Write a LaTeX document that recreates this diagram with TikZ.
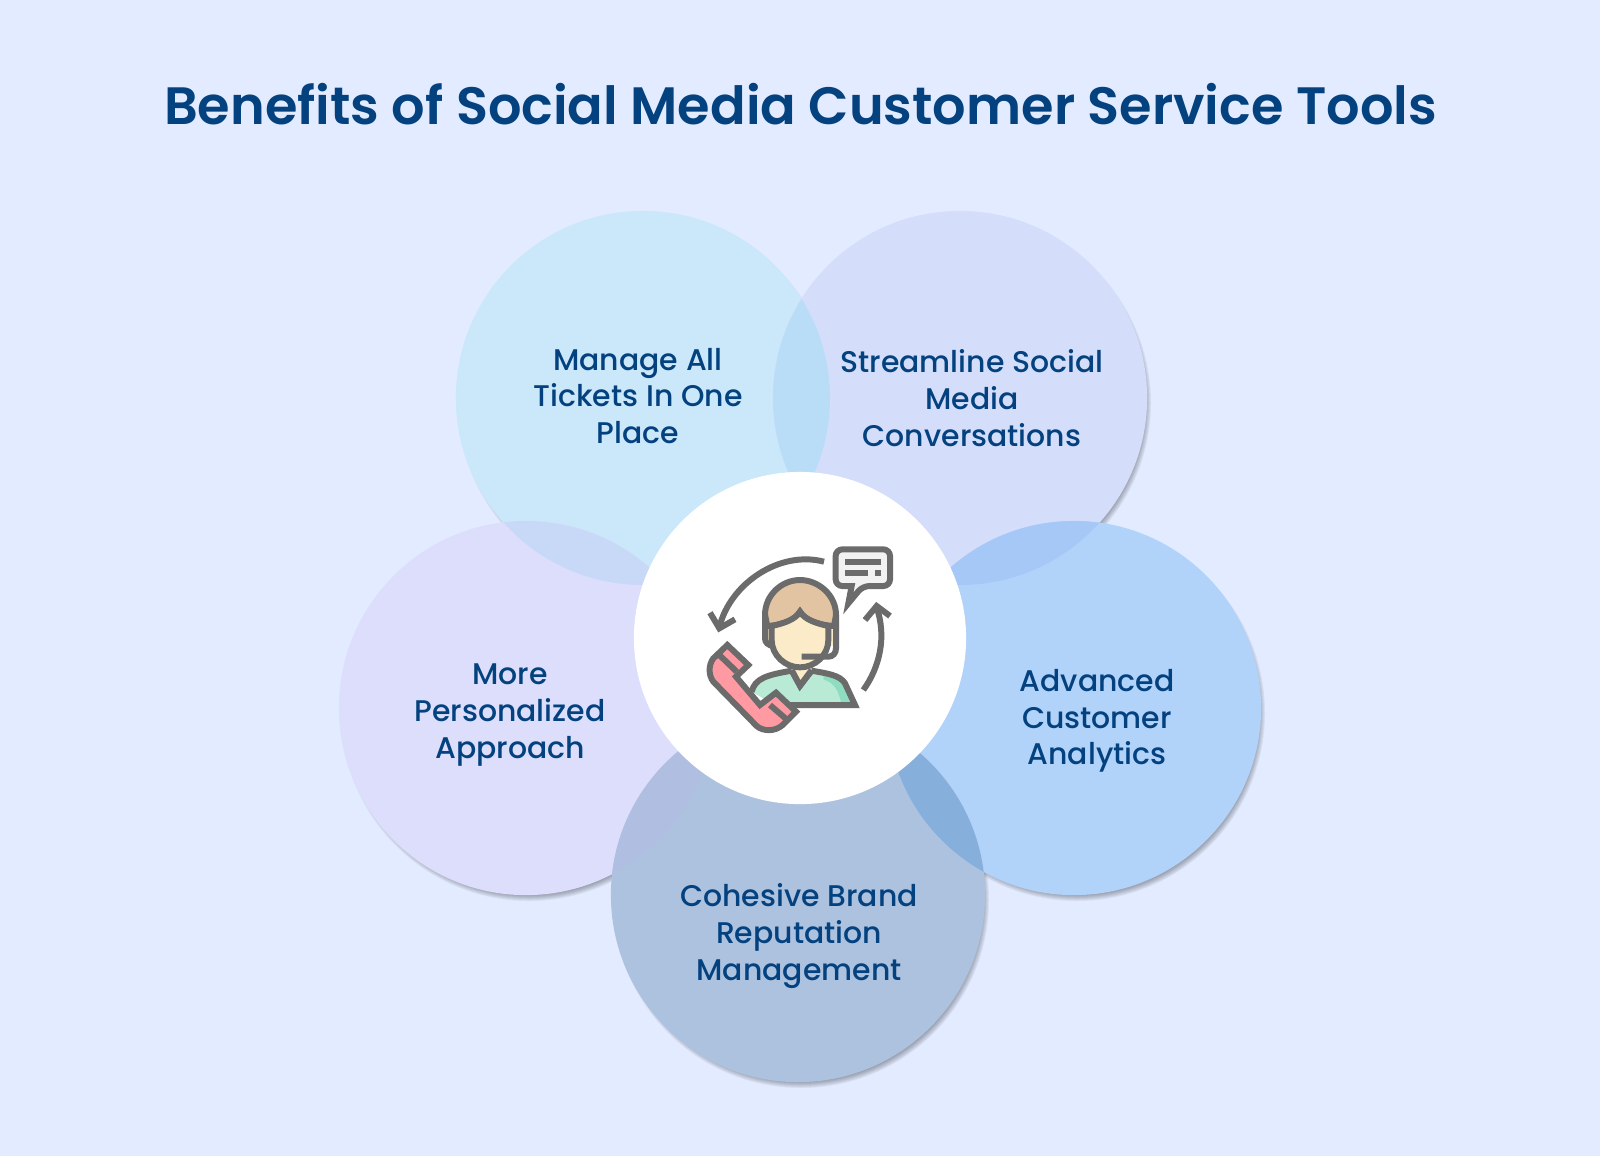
\documentclass[tikz,border=0pt]{standalone}
\usepackage{fontspec}
\setmainfont{Poppins Medium}
\newfontfamily\titlefont{Poppins SemiBold}
\definecolor{pagebg}{HTML}{E2EBFF}
\definecolor{titleblue}{HTML}{03417F}
\definecolor{ticketsfill}{HTML}{CBE7FA}
\definecolor{streamfill}{HTML}{D4DEFB}
\definecolor{analyticsfill}{HTML}{B1D2F9}
\definecolor{personalfill}{HTML}{DCDEFC}
\definecolor{brandfill}{HTML}{ADC2DF}
\definecolor{lensa}{HTML}{B9DDF6}
\definecolor{lensb}{HTML}{C8D9F8}
\definecolor{lensc}{HTML}{A6C8F7}
\definecolor{lensd}{HTML}{B0BEE2}
\definecolor{lense}{HTML}{87AFDB}
\definecolor{iconline}{HTML}{6B6B6B}
\definecolor{hairtan}{HTML}{E3C4A2}
\definecolor{skin}{HTML}{FBEBC8}
\definecolor{shirt}{HTML}{B9EAD5}
\definecolor{shirtdark}{HTML}{8FDDC0}
\definecolor{phonepink}{HTML}{FF9AA2}
\definecolor{bubblegrey}{HTML}{F2F2F2}
\tikzset{
  petal/.style={circle,inner sep=0pt,outer sep=0pt,minimum size=3.74cm},
  petaltext/.style={align=center,text=titleblue,font=\fontsize{8.5}{10.45}\selectfont},
  iconstroke/.style={draw=iconline,line width=1.7pt}
}
\newcommand{\lens}[3]{
  \begin{scope}
    \clip (#1.center) circle[radius=187];
    \fill[#3] (#2.center) circle[radius=187];
  \end{scope}
}
\begin{document}
\begin{tikzpicture}[x=0.01cm,y=-0.01cm]
\fill[pagebg] (0,0) rectangle (1600,1156);
\useasboundingbox (0,0) rectangle (1600,1156);

\node[text=titleblue,font=\fontsize{14.95}{18}\selectfont\titlefont] (title) at (800.5,104) {Benefits of Social Media Customer Service Tools};

% soft shadows under the five circles
\foreach \cx/\cy in {643/398,960/398,1074/708,526/708,798/895} {
  \foreach \rr in {0,...,8} {
    \fill[black,opacity=0.05] (\cx+3,\cy+5) circle[radius=180+\rr];
  }
}

\node[petal,fill=ticketsfill] (tickets) at (643,398) {};
\node[petal,fill=streamfill] (stream) at (960,398) {};
\node[petal,fill=analyticsfill] (analytics) at (1074,708) {};
\node[petal,fill=personalfill] (personal) at (526,708) {};
\node[petal,fill=brandfill] (brand) at (798,895) {};

\lens{tickets}{stream}{lensa}
\lens{tickets}{personal}{lensb}
\lens{stream}{analytics}{lensc}
\lens{personal}{brand}{lensd}
\lens{analytics}{brand}{lense}

\node[circle,fill=white,inner sep=0pt,minimum size=3.32cm] (hub) at (800,638) {};

\node[petaltext] (ticketstext) at (638,396) {Manage All\\Tickets In One\\Place};
\node[petaltext] (streamtext) at (972,398) {Streamline Social\\Media\\Conversations};
\node[petaltext] (analyticstext) at (1097,721) {Advanced\\Customer\\Analytics};
\node[petaltext] (personaltext) at (510,715) {More\\Personalized\\Approach};
\node[petaltext] (brandtext) at (799,936) {Cohesive Brand\\Reputation\\Management};

% icon, drawn at 3x about its corner
\begin{scope}[shift={(680,520)},x=0.01cm/3,y=-0.01cm/3]
  % arrows
  \draw[iconstroke] (432,125) .. controls (300,90) and (150,190) .. (118,322);
  \draw[iconstroke] (90,278) -- (118,325) -- (165,298);
  \draw[iconstroke] (550,510) .. controls (600,440) and (620,350) .. (590,262);
  \draw[iconstroke] (555,300) -- (590,258) -- (630,288);
  % speech bubble
  \draw[iconstroke,fill=bubblegrey] (550,88) [rounded corners=1.9pt] -- (630,88) -- (630,198) -- (548,198) [sharp corners] -- (505,250) -- (515,198) [rounded corners=1.9pt] -- (467,198) -- (467,88) -- cycle;
  \draw[iconstroke] (495,125) -- (602,125);
  \draw[iconstroke] (495,160) -- (565,160);
  \draw[iconstroke] (585,160) -- (602,160);
  % body
  \fill[shirt] (215,515) .. controls (225,475) and (260,465) .. (335,452) -- (360,497) -- (395,452) .. controls (440,460) and (480,465) .. (495,490) -- (525,555) -- (285,555) -- cycle;
  \fill[shirtdark] (430,478) .. controls (465,490) and (475,510) .. (485,555) -- (525,555) -- (495,490) .. controls (485,475) and (465,470) .. (430,465) -- cycle;
  \draw[iconstroke] (215,515) .. controls (225,475) and (260,465) .. (335,452) -- (360,497) -- (395,452) .. controls (440,460) and (480,465) .. (495,490) -- (525,555) -- (285,555);
  \fill[skin] (335,440) -- (395,440) -- (395,452) -- (360,490) -- (335,452) -- cycle;
  \draw[iconstroke] (335,450) -- (360,497) -- (395,450);
  % head
  \fill[skin] (268,352) ellipse[x radius=14,y radius=26];
  \fill[skin] (455,352) ellipse[x radius=14,y radius=26];
  \draw[iconstroke,fill=hairtan] (262,318) -- (255,285) .. controls (255,225) and (305,180) .. (360,180) .. controls (415,180) and (468,225) .. (468,285) -- (462,318) .. controls (415,315) and (375,300) .. (360,275) .. controls (345,300) and (310,315) .. (262,318) -- cycle;
  \draw[iconstroke,fill=skin] (275,318) -- (275,360) .. controls (275,405) and (315,442) .. (360,442) .. controls (405,442) and (445,405) .. (445,360) -- (445,318) .. controls (410,310) and (375,300) .. (360,275) .. controls (345,300) and (310,310) .. (275,318) -- cycle;
  \draw[iconstroke] (255,285) -- (255,355) .. controls (255,368) and (265,376) .. (280,378);
  \draw[iconstroke] (468,285) -- (468,385) .. controls (468,400) and (458,410) .. (445,410) -- (365,410);
  % handset
  \draw[iconstroke,fill=phonepink] (142,375) -- (205,435) -- (168,470) -- (240,555) -- (288,518) -- (348,575) -- (308,615) .. controls (285,635) and (250,635) .. (230,618) -- (100,485) .. controls (85,465) and (85,435) .. (100,415) -- cycle;
  \draw[iconstroke] (118,405) -- (170,455);
  \draw[iconstroke] (270,555) -- (322,600);
\end{scope}
\end{tikzpicture}
\end{document}
